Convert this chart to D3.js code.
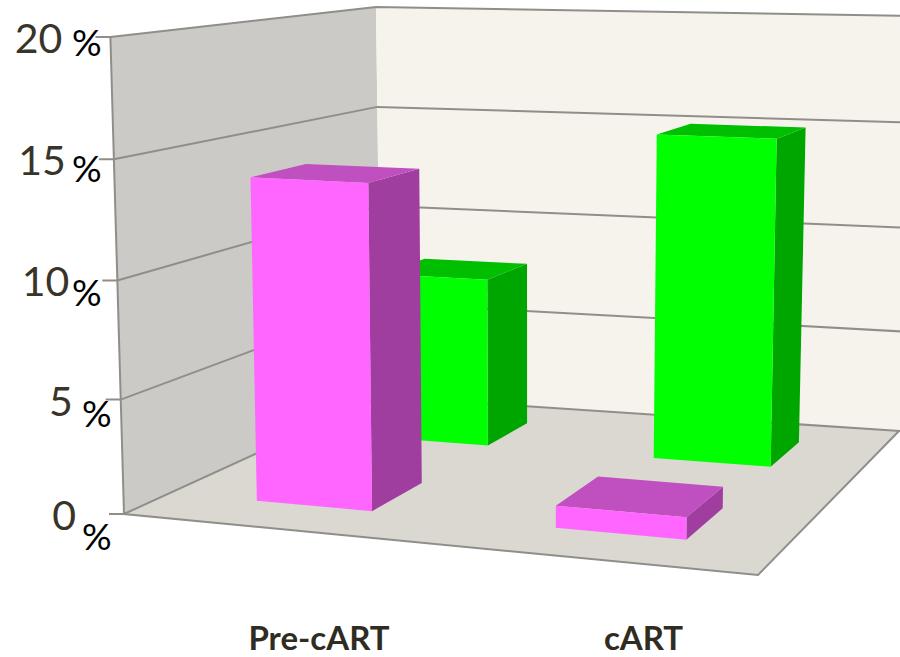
<!DOCTYPE html>
<html><head><meta charset="utf-8"><title>Pre-cART and cART</title>
<script src="https://cdn.jsdelivr.net/npm/d3@7"></script>
<style>html,body{margin:0;padding:0;background:#fff}svg{display:block}</style></head>
<body><script>
// Chart values
const categories = ["Pre-cART", "cART"];
const seriesNames = ["front", "back"];
const frontValues = [14, 1];
const backValues = [8, 15];
const tickValues = [0, 5, 10, 15, 20];

// Box geometry: floor corners on screen, wall heights at three corners
const floorQuad = [[124, 514], [758, 575], [899, 431], [381, 396.5]];
const cornerHeight = { frontLeft: 477, backLeft: 389.5, backRight: 415 };
const lean = { k: 0.0335, x0: 530 };

const width = 900, height = 657;
const svg = d3.select("body").append("svg").attr("width", width).attr("height", height);

// Maps the unit square onto the floor quadrilateral
function unitSquareToQuad(q) {
  const [[x0, y0], [x1, y1], [x2, y2], [x3, y3]] = q;
  const dx1 = x1 - x2, dx2 = x3 - x2, sx = x0 - x1 + x2 - x3;
  const dy1 = y1 - y2, dy2 = y3 - y2, sy = y0 - y1 + y2 - y3;
  const den = dx1 * dy2 - dx2 * dy1;
  const g = (sx * dy2 - dx2 * sy) / den, h = (dx1 * sy - sx * dy1) / den;
  const a = x1 - x0 + g * x1, b = x3 - x0 + h * x3;
  const d = y1 - y0 + g * y1, e = y3 - y0 + h * y3;
  return (u, v) => {
    const w = g * u + h * v + 1;
    return [(a * u + b * v + x0) / w, (d * u + e * v + y0) / w];
  };
}
const floorAt = unitSquareToQuad(floorQuad);

const xBand = d3.scaleBand().domain(categories).range([0.007, 1.007]).paddingInner(0.6).paddingOuter(0.3);
const zBand = d3.scaleBand().domain(seriesNames).range([-0.002, 1.002]).paddingInner(0.6).paddingOuter(0.3);
// Slight foreshortening of the vertical axis
const yFrac = d3.scalePow().exponent(1.03).domain([0, 20]).range([0, 1]);
const labelX = d3.scalePoint().domain(categories).range([319, 643.5]);

// Wall height falls off with depth: its inverse is linear across the floor
const h0 = 1 / cornerHeight.frontLeft;
const hDepth = 1 / cornerHeight.backLeft - h0;
const hWidth = 1 / cornerHeight.backRight - 1 / cornerHeight.backLeft;

// (across, depth, value) to screen
function project(u, z, value) {
  const [x, y] = floorAt(u, z);
  const t = yFrac(value);
  const h = 1 / (h0 + hWidth * u + hDepth * z);
  return [x + lean.k * (x - lean.x0) * t, y - h * t];
}
const path = pts => "M" + pts.map(p => p.join(",")).join("L") + "Z";
const lineAt = pts => "M" + pts.map(p => p.join(",")).join("L");

const edge = "#8f8e89";

// Walls and floor
svg.append("path").attr("fill", "#cbcac6")
  .attr("d", path([project(0, 0, 20), project(0, 1, 20), project(0, 1, 0), project(0, 0, 0)]));
svg.append("path").attr("fill", "#f6f3ec")
  .attr("d", path([project(0, 1, 20), project(1.02, 1, 20), project(1.02, 1, 0), project(0, 1, 0)]));
svg.append("path").attr("fill", "#dad8d1")
  .attr("d", path([project(0, 0, 0), project(1, 0, 0), project(1, 1, 0), project(0, 1, 0)]));

// Gridlines across both walls, with the short tick at the front corner
const grid = svg.append("g").attr("fill", "none").attr("stroke", edge).attr("stroke-width", 2);
tickValues.forEach(v => {
  const front = project(0, 0, v);
  grid.append("path").attr("d", lineAt([[front[0] - 15, front[1]], front, project(0, 1, v), project(1.02, 1, v)]));
});
grid.append("path").attr("d", lineAt([project(0, 0, 20), project(0, 0, 0), project(1, 0, 0), project(1, 1, 0)]));

// Bars, back row first, each as front, side and top faces
const palette = {
  front: { face: "#ff66ff", side: "#a03ea0", top: "#c04fc0" },
  back: { face: "#00ff00", side: "#00a600", top: "#00be00" }
};
const rows = [
  { name: "back", values: backValues },
  { name: "front", values: frontValues }
];
const bars = svg.append("g");
rows.forEach(row => {
  row.values.forEach((value, i) => {
    const u0 = xBand(categories[i]), u1 = u0 + xBand.bandwidth();
    const z0 = zBand(row.name), z1 = z0 + zBand.bandwidth();
    const c = palette[row.name];
    const g = bars.append("g");
    g.append("path").attr("fill", c.side)
      .attr("d", path([project(u1, z0, value), project(u1, z1, value), project(u1, z1, 0), project(u1, z0, 0)]));
    g.append("path").attr("fill", c.top)
      .attr("d", path([project(u0, z0, value), project(u1, z0, value), project(u1, z1, value), project(u0, z1, value)]));
    g.append("path").attr("fill", c.face)
      .attr("d", path([project(u0, z0, value), project(u1, z0, value), project(u1, z0, 0), project(u0, z0, 0)]));
  });
});

// Value labels: the number is set against the tick, the percent sign sits apart from it
const percentSpots = new Map([[20, [72, 19]], [15, [72, 23]], [10, [72, 26]], [5, [82, 27]], [0, [82, 36]]]);
const labels = svg.append("g").attr("font-family", "Lato, 'Open Sans', sans-serif");
tickValues.forEach(v => {
  const [x, y] = project(0, 0, v);
  labels.append("text").attr("x", x - 48).attr("y", y + 16)
    .attr("text-anchor", "end").attr("font-size", 41).attr("fill", "#38342a").text(v);
  const [px, dy] = percentSpots.get(v);
  labels.append("text").attr("x", px).attr("y", y + dy)
    .attr("font-size", 37).attr("fill", "#000").text("%");
});

// Category labels under the front edge
categories.forEach(name => {
  labels.append("text").attr("x", labelX(name)).attr("y", 650)
    .attr("text-anchor", "middle").attr("font-size", 33).attr("font-weight", 700)
    .attr("fill", "#2f2c22").text(name);
});
</script></body></html>
